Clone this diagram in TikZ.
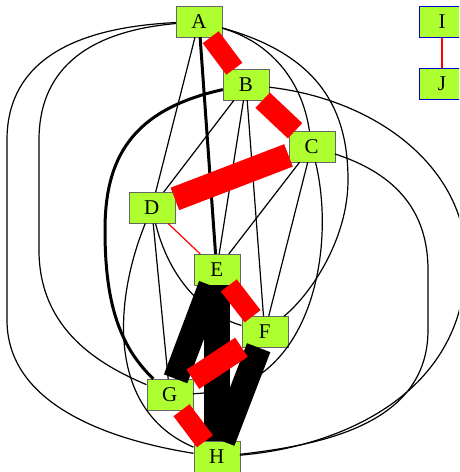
\documentclass[tikz,border=0pt]{standalone}
\usepackage{fontspec}
\setmainfont{Liberation Serif}

\definecolor{leaf}{HTML}{ADFF2F}

\begin{document}
\begin{tikzpicture}[x=1pt, y=-1pt,
    vertex/.style={draw=black!60, fill=leaf, rectangle, minimum width=46pt,
      minimum height=31pt, inner sep=0pt, font=\fontsize{21}{24}\selectfont},
    lone/.style={vertex, draw=blue!85!black, line width=1pt},
    wire/.style={line width=1.2pt},
    bold/.style={line width=3pt},
    band/.style={line cap=butt}]
        \useasboundingbox (0,0) rectangle (459,472);
        \clip (0,0) rectangle (459,472);

        % Nodes
        \node[vertex] (A) at (199,21.5) {A};
        \node[vertex] (B) at (246,84.5) {B};
        \node[vertex] (C) at (311.7,146.5) {C};
        \node[vertex] (D) at (151.7,207.8) {D};
        \node[vertex] (E) at (216.7,269.7) {E};
        \node[vertex] (F) at (264.7,332) {F};
        \node[vertex] (G) at (169.7,394.5) {G};
        \node[vertex] (H) at (216.7,457) {H};
        \node[lone] (I) at (442,21.5) {I};
        \node[lone] (J) at (442,84) {J};

        % Straight thin edges
        \draw[wire] (A) -- (D);
        \draw[wire] (B) -- (D);
        \draw[wire] (B) -- (E);
        \draw[wire] (B) -- (F);
        \draw[wire] (C) -- (E);
        \draw[wire] (C) -- (F);
        \draw[wire] (D) -- (G);

        % Curved thin edges
        \draw[wire] (A) .. controls (270,42) and (302,80) .. (C);
        \draw[wire] (A) .. controls (320,55) and (348,110) .. (348,180)
                        .. controls (348,240) and (310,295) .. (F);
        \draw[wire] (A) .. controls (80,32) and (39,75) .. (39,140) -- (39,250)
                        .. controls (39,330) and (100,365) .. (G);
        \draw[wire] (A) .. controls (60,28) and (7,70) .. (7,140) -- (7,320)
                        .. controls (7,405) and (110,440) .. (H);
        \draw[wire] (B) .. controls (380,100) and (466,170) .. (466,260)
                        .. controls (466,400) and (330,448) .. (H);
        \draw[wire] (C) .. controls (400,175) and (428,215) .. (428,270) -- (428,330)
                        .. controls (428,425) and (320,445) .. (H);
        \draw[wire] (C) .. controls (332,230) and (320,330) .. (262,373)
                        .. controls (240,388) and (215,393) .. (G);
        \draw[wire] (D) .. controls (172,290) and (215,318) .. (F);
        \draw[wire] (D) .. controls (114,300) and (106,410) .. (H);

        % Heavier black edges
        \draw[bold] (A) -- (E);
        \draw[bold] (B) .. controls (130,110) and (105,160) .. (105,230)
                        .. controls (105,300) and (118,345) .. (G);
        \draw[band, line width=25pt] (E) -- (G);
        \draw[band, line width=26pt] (E) -- (H);
        \draw[band, line width=25pt] (F) -- (H);

        % Red edges
        \draw[red, wire] (D) -- (E);
        \draw[red, wire] (I) -- (J);
        \draw[red, band, line width=20pt] (A) -- (B);
        \draw[red, band, line width=21pt] (B) -- (C);
        \draw[red, band, line width=24pt] (C) -- (D);
        \draw[red, band, line width=20pt] (E) -- (F);
        \draw[red, band, line width=23pt] (F) -- (G);
        \draw[red, band, line width=20pt] (G) -- (H);
\end{tikzpicture}
\end{document}
